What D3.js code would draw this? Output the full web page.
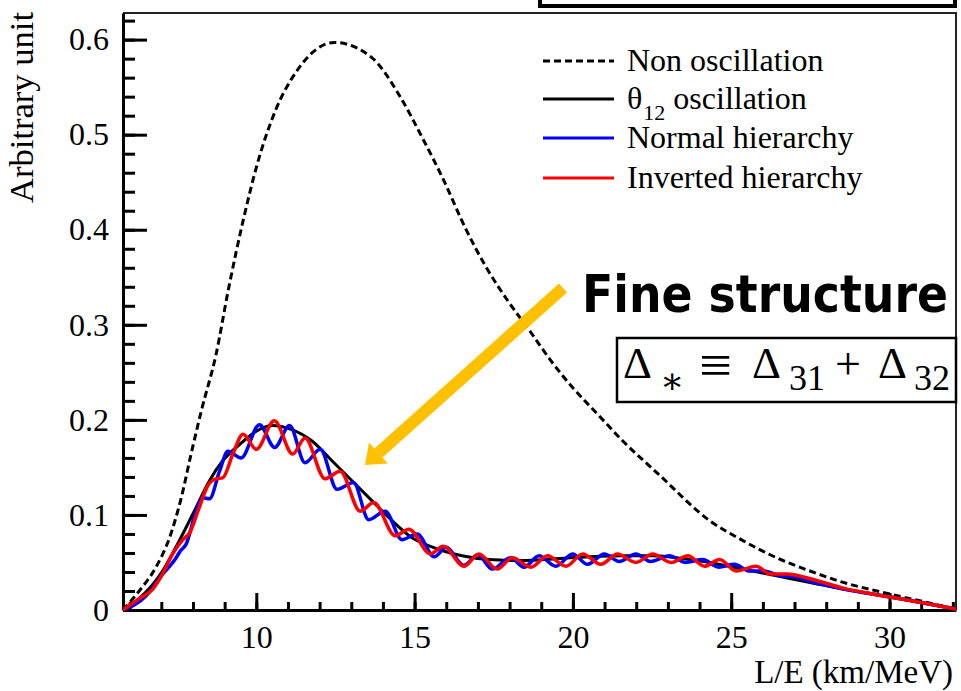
<!DOCTYPE html>
<html>
<head>
<meta charset="UTF-8">
<title>L/E spectrum</title>
<style>
  body { margin: 0; background: #fff; }
  svg text { fill: #000; }
</style>
<script src="https://cdn.jsdelivr.net/npm/d3@7"></script>
</head>
<body>
<div id="chart"></div>
<script>
// values: [L/E (km/MeV), arbitrary unit]
const nonOscillation = [[5.79,0.0],[6.3,0.02],[6.83,0.045],[7.26,0.076],[7.63,0.118],[7.94,0.164],[8.26,0.209],
  [8.73,0.269],[9.13,0.339],[9.58,0.409],[10.03,0.469],[10.6,0.525],[11.28,0.567],[12.47,0.597],[13.65,0.581],
  [14.56,0.539],[15.24,0.497],[15.92,0.452],[16.6,0.402],[17.27,0.36],[17.95,0.325],[18.63,0.294],[19.31,0.262],
  [19.99,0.234],[20.78,0.206],[21.57,0.178],[22.7,0.143],[24.32,0.094],[25.37,0.073],[26.43,0.055],[27.49,0.041],
  [28.54,0.029],[29.6,0.02],[31.18,0.008],[32.1,0.001]];

const theta12 = [[5.79,0.0],[6.3,0.012],[7.04,0.041],[7.57,0.073],[8.1,0.108],[8.52,0.136],[8.94,0.157],[9.47,0.174],
  [10.0,0.188],[10.5,0.194],[11.1,0.19],[11.75,0.178],[12.39,0.157],[13.02,0.136],[13.65,0.115],[14.29,0.094],
  [14.92,0.076],[15.5,0.067],[16.5,0.057],[17.35,0.053],[18.4,0.052],[19.46,0.054],[20.52,0.056],[21.57,0.057],
  [22.5,0.057],[23.26,0.055],[24.32,0.05],[25.37,0.043],[26.43,0.036],[27.49,0.029],[28.54,0.022],[29.6,0.016],
  [30.65,0.01],[32.1,0.001]];

const normalHierarchy = [[5.79,0.0],[6.52,0.015],[7.0,0.036],[7.47,0.055],[7.6,0.062],[7.78,0.069],[8.1,0.104],
  [8.31,0.118],[8.52,0.117],[8.84,0.146],[9.1,0.167],[9.52,0.16],[10.1,0.195],[10.58,0.171],[11.05,0.194],
  [11.54,0.155],[12.02,0.169],[12.55,0.127],[13.07,0.134],[13.55,0.095],[14.07,0.104],[14.6,0.074],[15.08,0.08],
  [15.62,0.056],[16.0,0.066],[16.55,0.047],[17.0,0.058],[17.45,0.043],[18.03,0.055],[18.46,0.045],[18.93,0.057],
  [19.46,0.046],[19.99,0.059],[20.46,0.048],[20.99,0.059],[21.46,0.051],[21.99,0.059],[22.45,0.051],[23.05,0.057],
  [23.55,0.05],[24.1,0.053],[24.6,0.045],[25.1,0.048],[25.58,0.041],[26.05,0.041],[26.53,0.036],[27.0,0.035],
  [27.6,0.029],[28.54,0.022],[29.6,0.016],[30.65,0.01],[32.1,0.001]];

const invertedHierarchy = [[5.79,0.0],[6.3,0.012],[6.73,0.022],[7.04,0.038],[7.36,0.059],[7.68,0.074],[7.89,0.081],
  [8.2,0.108],[8.47,0.131],[8.73,0.138],[8.94,0.139],[9.26,0.164],[9.58,0.185],[10.0,0.169],[10.57,0.199],
  [11.15,0.164],[11.54,0.181],[12.17,0.138],[12.65,0.146],[13.28,0.104],[13.71,0.113],[14.39,0.078],[14.82,0.085],
  [15.5,0.059],[15.9,0.067],[16.56,0.046],[17.03,0.059],[17.61,0.043],[18.09,0.055],[18.67,0.045],[19.2,0.057],
  [19.78,0.046],[20.31,0.059],[20.88,0.048],[21.41,0.059],[21.99,0.05],[22.52,0.059],[23.1,0.05],[23.63,0.057],
  [24.16,0.046],[24.63,0.053],[25.16,0.041],[25.79,0.046],[26.22,0.038],[26.74,0.038],[27.7,0.031],[28.54,0.023],
  [29.6,0.016],[30.65,0.01],[32.1,0.001]];

const xMajorTicks = [10, 15, 20, 25, 30];
const yMajorTicks = [0, 0.1, 0.2, 0.3, 0.4, 0.5, 0.6];
const legendLabels = ["Non oscillation", "θ|12| oscillation", "Normal hierarchy", "Inverted hierarchy"];

const serif = "Liberation Serif";

const margin = { top: 13, right: 5, bottom: 81, left: 123 },
    width = 961 - margin.left - margin.right,
    height = 691 - margin.top - margin.bottom;

const svg = d3.select("#chart").append("svg")
    .attr("width", 961)
    .attr("height", 691)
    .attr("font-family", serif);

const g = svg.append("g")
    .attr("transform", "translate(" + margin.left + "," + margin.top + ")");

const x = d3.scaleLinear().domain([5.79, 32.1]).range([0, width]);
const y = d3.scaleLinear().domain([0, 0.628]).range([height, 0]);

// frame top + right
g.append("path")
    .attr("d", "M0,0H" + width + "V" + height)
    .attr("fill", "none")
    .attr("stroke", "#222")
    .attr("stroke-width", 2);

// minor ticks
g.append("g")
    .call(d3.axisLeft(y).tickValues(d3.range(0, 32).map(i => i * 0.02)).tickSize(-12).tickFormat(""))
    .call(a => a.selectAll("line").attr("stroke-width", 3))
    .call(a => a.select(".domain").remove());
g.append("g")
    .attr("transform", "translate(0," + height + ")")
    .call(d3.axisBottom(x).tickValues(d3.range(6, 33)).tickSize(-8).tickFormat(""))
    .call(a => a.selectAll("line").attr("stroke-width", 3))
    .call(a => a.select(".domain").remove());

// major axes
const yAxis = g.append("g")
    .call(d3.axisLeft(y).tickValues(yMajorTicks).tickSize(-24).tickSizeOuter(0).tickPadding(14)
        .tickFormat(d => d === 0 ? "0" : d3.format(".1f")(d)));
const xAxis = g.append("g")
    .attr("transform", "translate(0," + height + ")")
    .call(d3.axisBottom(x).tickValues(xMajorTicks).tickSize(-17).tickSizeOuter(0).tickPadding(15));

[yAxis, xAxis].forEach(a => {
  a.attr("font-family", serif).attr("font-size", 32);
  a.selectAll("line").attr("stroke-width", 3);
  a.select(".domain").attr("stroke-width", 3);
  a.selectAll("text").attr("font-family", serif).attr("fill", "#000");
});

// axis titles
svg.append("text")
    .attr("transform", "translate(33,12) rotate(-90)")
    .attr("text-anchor", "end")
    .attr("font-size", 33)
    .attr("textLength", 191)
    .attr("lengthAdjust", "spacingAndGlyphs")
    .text("Arbitrary unit");

svg.append("text")
    .attr("x", 953)
    .attr("y", 683)
    .attr("text-anchor", "end")
    .attr("font-size", 33)
    .text("L/E (km/MeV)");

// curves
const line = d3.line()
    .x(d => x(d[0]))
    .y(d => y(d[1]))
    .curve(d3.curveMonotoneX);

g.append("clipPath").attr("id", "clip")
  .append("rect").attr("width", width).attr("height", height + 3).attr("y", -1);

const curves = g.append("g").attr("clip-path", "url(#clip)");

const series = [
  { data: nonOscillation, color: "#000", dash: "7,4", w: 3 },
  { data: theta12, color: "#000", dash: null, w: 3 },
  { data: normalHierarchy, color: "#0000ff", dash: null, w: 3.5 },
  { data: invertedHierarchy, color: "#ff0000", dash: null, w: 3.5 }
];

curves.selectAll("path.curve")
  .data(series)
  .enter().append("path")
    .attr("class", "curve")
    .attr("d", d => line(d.data))
    .attr("fill", "none")
    .attr("stroke", d => d.color)
    .attr("stroke-width", d => d.w)
    .attr("stroke-dasharray", d => d.dash);

// legend
const legend = svg.append("g").attr("transform", "translate(543,0)");
const legendRows = [61, 99, 138, 178];

legend.selectAll("line")
  .data(series)
  .enter().append("line")
    .attr("x1", 0).attr("x2", 71)
    .attr("y1", (d, i) => legendRows[i]).attr("y2", (d, i) => legendRows[i])
    .attr("stroke", d => d.color)
    .attr("stroke-width", 3)
    .attr("stroke-dasharray", d => d.dash);

legend.selectAll("text")
  .data(legendLabels)
  .enter().append("text")
    .attr("x", 84)
    .attr("y", (d, i) => legendRows[i] + 10)
    .attr("font-size", 32)
    .each(function(d) {
      const parts = d.split("|");
      const t = d3.select(this);
      t.append("tspan").text(parts[0]);
      if (parts.length > 1) {
        t.append("tspan").attr("font-size", 22).attr("dy", 11).attr("dx", 1).text(parts[1]);
        t.append("tspan").attr("dy", -11).text(parts[2]);
      }
    });

// box cut at the top of the picture
svg.append("rect")
    .attr("x", 540).attr("y", -10)
    .attr("width", 415).attr("height", 16)
    .attr("fill", "none")
    .attr("stroke", "#000")
    .attr("stroke-width", 4);

// arrow
const start = [563, 288], tip = [365, 465];
const dx = tip[0] - start[0], dy = tip[1] - start[1], len = Math.hypot(dx, dy);
const ux = dx / len, uy = dy / len, headLen = 18, headHalf = 14;
const base = [tip[0] - headLen * ux, tip[1] - headLen * uy];
svg.append("line")
    .attr("x1", start[0]).attr("y1", start[1])
    .attr("x2", base[0]).attr("y2", base[1])
    .attr("stroke", "#ffc000")
    .attr("stroke-width", 12);
svg.append("polygon")
    .attr("points", [tip, [base[0] - headHalf * uy, base[1] + headHalf * ux], [base[0] + headHalf * uy, base[1] - headHalf * ux]]
        .map(p => p.join(",")).join(" "))
    .attr("fill", "#ffc000");

svg.append("text")
    .attr("x", 582).attr("y", 312)
    .attr("font-size", 52)
    .attr("font-weight", "bold")
    .attr("font-family", "DejaVu Sans")
    .attr("textLength", 366)
    .attr("lengthAdjust", "spacingAndGlyphs")
    .text("Fine structure");

// formula box
svg.append("rect")
    .attr("x", 617).attr("y", 338)
    .attr("width", 339).attr("height", 64)
    .attr("fill", "#fff")
    .attr("stroke", "#000")
    .attr("stroke-width", 2.5);

const formula = [
  { s: "Δ", x: 623, y: 378, size: 45 },
  { s: "∗", x: 660, y: 393, size: 36, f: "DejaVu Serif" },
  { s: "≡", x: 699, y: 384, size: 56, w: 33 },
  { s: "Δ", x: 752, y: 378, size: 45 },
  { s: "31", x: 789, y: 390, size: 36 },
  { s: "+", x: 835, y: 379, size: 46 },
  { s: "Δ", x: 878, y: 378, size: 45 },
  { s: "32", x: 914, y: 390, size: 36 }
];
svg.selectAll("text.formula")
  .data(formula)
  .enter().append("text")
    .attr("class", "formula")
    .attr("x", d => d.x).attr("y", d => d.y)
    .attr("font-size", d => d.size)
    .attr("font-family", d => d.f || serif)
    .attr("textLength", d => d.w || null)
    .attr("lengthAdjust", "spacingAndGlyphs")
    .text(d => d.s);
</script>
</body>
</html>
